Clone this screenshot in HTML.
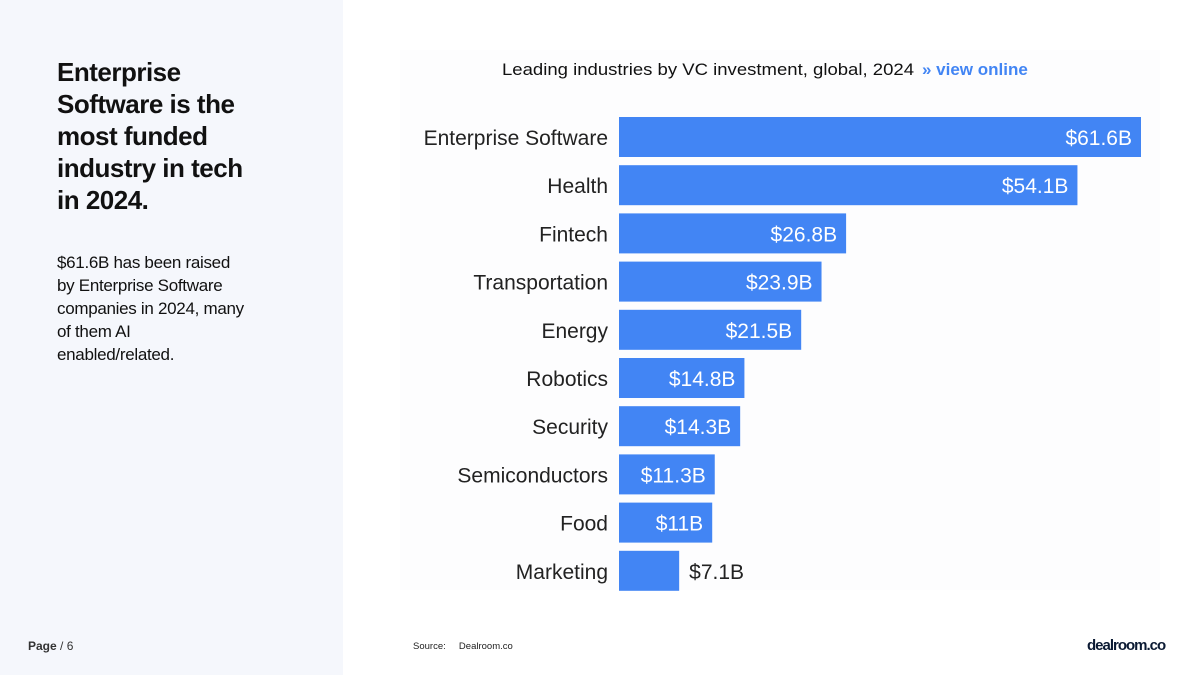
<!DOCTYPE html>
<html><head><meta charset="utf-8"><style>
body{margin:0;width:1200px;height:675px;position:relative;background:#fff;font-family:"Liberation Sans",sans-serif;overflow:hidden}
.left{position:absolute;left:0;top:0;width:343px;height:675px;background:#f5f7fc}
h1{position:absolute;left:57px;top:56px;margin:0;font-size:26px;line-height:32px;font-weight:bold;color:#111;width:260px;letter-spacing:-0.5px;white-space:nowrap}
.desc{position:absolute;left:57px;top:251px;font-size:17px;line-height:23px;color:#111;width:260px;letter-spacing:-0.3px;white-space:nowrap}
.page{position:absolute;left:28px;top:639px;font-size:12px;color:#333}
.src{position:absolute;left:413px;top:641px;font-size:9.5px;color:#222}
.logo{position:absolute;left:1087px;top:637px;font-size:15px;font-weight:bold;color:#0b1a33;letter-spacing:-1px}
.plot{position:absolute;left:400px;top:50px;width:760px;height:540px;background:#fdfdfe}
</style></head><body>
<div class="left"></div>
<h1>Enterprise<br>Software is the<br>most funded<br>industry in tech<br>in 2024.</h1>
<div class="desc">$61.6B has been raised<br>by Enterprise Software<br>companies in 2024, many<br>of them AI<br>enabled/related.</div>
<div class="page"><b>Page</b> / 6</div>
<div class="src">Source:&nbsp;&nbsp;&nbsp;&nbsp; Dealroom.co</div>
<div class="logo">dealroom.co</div>
<div class="plot"></div>
<svg id="chart" width="1200" height="675" style="position:absolute;left:0;top:0">
<text x="708" y="75" font-size="17" fill="#111" text-anchor="middle" font-family="Liberation Sans" textLength="412" lengthAdjust="spacingAndGlyphs">Leading industries by VC investment, global, 2024</text>
<text x="922" y="75" font-size="17" fill="#4285f4" font-weight="bold">» view online</text>
</svg>
<script>
const categories=["Enterprise Software","Health","Fintech","Transportation","Energy","Robotics","Security","Semiconductors","Food","Marketing"];
const values=[61.6,54.1,26.8,23.9,21.5,14.8,14.3,11.3,11,7.1];
const labels=["$61.6B","$54.1B","$26.8B","$23.9B","$21.5B","$14.8B","$14.3B","$11.3B","$11B","$7.1B"];
const svg=document.getElementById('chart');
const NS="http://www.w3.org/2000/svg";
const x0=619, xScale=v=>x0+v*(522/61.6);
const yTop=i=>117+i*48.2, bh=40;
categories.forEach((c,i)=>{
  const y=yTop(i), w=xScale(values[i])-x0;
  const r=document.createElementNS(NS,'rect');
  r.setAttribute('x',x0);r.setAttribute('y',y);r.setAttribute('width',w);r.setAttribute('height',bh);r.setAttribute('fill','#4285f4');
  
  
  svg.appendChild(r);
  const t=document.createElementNS(NS,'text');
  t.setAttribute('x',608);t.setAttribute('y',y+28);t.setAttribute('text-anchor','end');t.setAttribute('font-size','21');t.setAttribute('fill','#222');
  t.textContent=c;
  
  
  svg.appendChild(t);
  const v=document.createElementNS(NS,'text');
  const inside=w>80;
  v.setAttribute('x',inside?x0+w-9:x0+w+10);v.setAttribute('y',y+28);v.setAttribute('text-anchor',inside?'end':'start');
  v.setAttribute('font-size','21');v.setAttribute('fill',inside?'#fff':'#222');
  v.textContent=labels[i];
  
  
  svg.appendChild(v);
});
</script>
</body></html>
